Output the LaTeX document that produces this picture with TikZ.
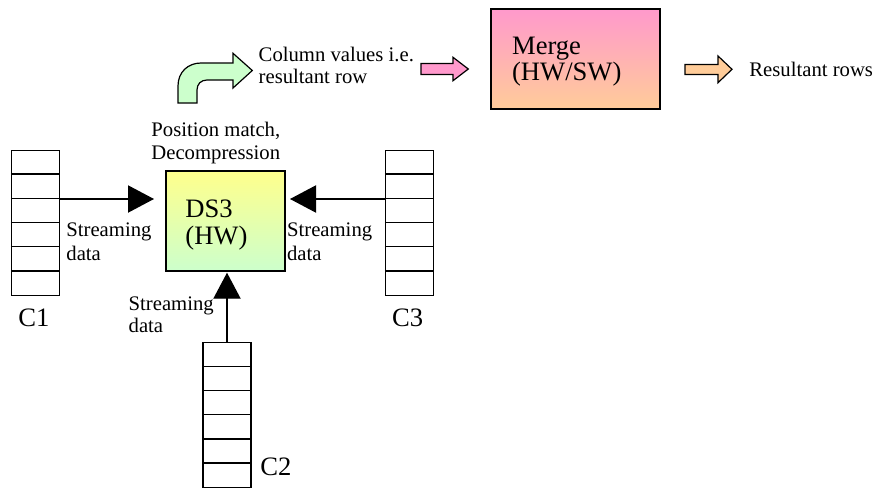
\documentclass[tikz,border=0pt]{standalone}
\usepackage{fontspec}
\setmainfont{Liberation Serif}
\usetikzlibrary{arrows.meta}

\definecolor{dsTop}{HTML}{FFFF8C}
\definecolor{dsBot}{HTML}{CCFFCC}
\definecolor{mgTop}{HTML}{FF99CC}
\definecolor{mgBot}{HTML}{FFCC99}
\definecolor{bentFill}{HTML}{CCFFCC}
\definecolor{pinkFill}{HTML}{FF99CC}
\definecolor{peachFill}{HTML}{FFCC99}

\tikzset{
  small/.style={font=\fontsize{10.35pt}{12pt}\selectfont, inner sep=0pt, anchor=base west},
  big/.style={font=\fontsize{13.3pt}{15pt}\selectfont, inner sep=0pt, anchor=base west},
  stack/.style={draw, line width=0.65pt, minimum width=24pt, minimum height=72.6pt, inner sep=0pt},
  unit/.style={draw, line width=0.65pt, inner sep=0pt},
  flow/.style={line width=0.65pt, -{Triangle[length=13pt,width=13.6pt]}},
  block/.style={draw, line width=0.6pt, line join=miter},
}

\begin{document}
\begin{tikzpicture}[x=0.5pt, y=-0.5pt]
\useasboundingbox (0,0) rectangle (877,487);

% column stores
\node[stack] (c1) at (35.5,223.1) {};
\node[stack] (c3) at (409.5,223.1) {};
\node[stack] (c2) at (227,415.3) {};
\foreach \s in {c1,c2,c3}
  \foreach \k in {1,...,5}
    \draw[line width=0.65pt] (\s.north west) ++(0,\k*24.2) -- ++(48,0);

% processing units
\node[unit, minimum width=59.5pt, minimum height=50pt,
      top color=dsTop, bottom color=dsBot] (ds3) at (225.5,221) {};
\node[unit, minimum width=84.5pt, minimum height=50pt,
      top color=mgTop, bottom color=mgBot] (merge) at (575.5,59) {};

\node[big] (ds3a) at (185,217.3) {DS3};
\node[big] (ds3b) at (185,244) {(HW)};
\node[big] (mga) at (511.7,54.3) {Merge};
\node[big] (mgb) at (511.7,80) {(HW/SW)};

% streaming connectors
\coordinate (t1) at (154,199);
\coordinate (t3) at (290,199);
\coordinate (t2) at (227,272.7);
\draw[flow] (c1.east |- t1) -- (t1);
\draw[flow] (c3.west |- t3) -- (t3);
\draw[flow] (c2.north) -- (t2);

% labels
\node[small] (pm1) at (151,136) {Position match,};
\node[small] (pm2) at (151,159.3) {Decompression};
\node[small] (sl1) at (66,236.7) {Streaming};
\node[small] (sl2) at (66,260.7) {data};
\node[small] (sr1) at (286.7,236.7) {Streaming};
\node[small] (sr2) at (286.7,260.5) {data};
\node[small] (sb1) at (128.3,310) {Streaming};
\node[small] (sb2) at (128.3,332) {data};
\node[small] (cv1) at (258.3,61.7) {Column values i.e.};
\node[small] (cv2) at (258.3,83.3) {resultant row};
\node[small] (rr) at (749,76.5) {Resultant rows};

\node[big] (l1) at (18,326) {C1};
\node[big] (l3) at (391.7,326) {C3};
\node[big] (l2) at (260,475) {C2};

% bent block arrow
\draw[block, fill=bentFill]
  (178,103) -- (178,86)
  .. controls (178,72) and (188,63) .. (201,63)
  -- (233,63) -- (233,53.3) -- (252.3,70.5) -- (233,88) -- (233,80)
  -- (207,80)
  .. controls (201,80) and (197,84) .. (197,90)
  -- (197,103) -- cycle;

% straight block arrows
\draw[block, fill=pinkFill]
  (421,63.5) -- (453,63.5) -- (453,57.3) -- (468.3,69) -- (453,80.7)
  -- (453,74.5) -- (421,74.5) -- cycle;
\draw[block, fill=peachFill]
  (685,64.5) -- (718,64.5) -- (718,56) -- (732,69.3) -- (718,82.7)
  -- (718,74.5) -- (685,74.5) -- cycle;
\end{tikzpicture}
\end{document}
